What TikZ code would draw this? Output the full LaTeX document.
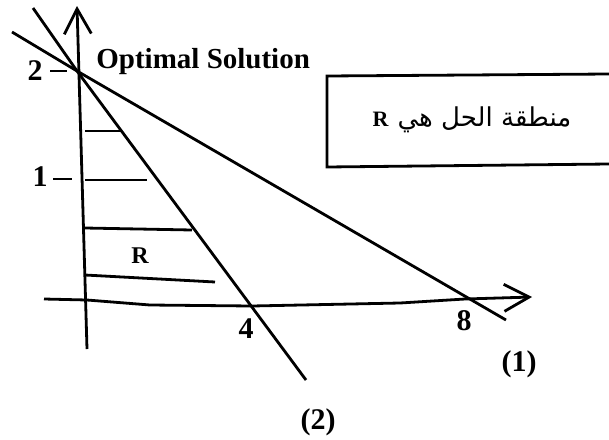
\documentclass[tikz,border=0pt]{standalone}
\usepackage{fontspec}
\setmainfont{Liberation Serif}
\newfontfamily\arabicfont[Script=Arabic]{DejaVu Sans}
\TeXXeTstate=1
\usetikzlibrary{arrows.meta}

\begin{document}
\begin{tikzpicture}[x=1pt,y=-1pt,line width=2.8pt,
  lab/.style={font=\bfseries\fontsize{30}{32}\selectfont,inner sep=0pt},
  axisarrow/.style={-{Straight Barb[length=25pt,width=27pt,line width=2.8pt]}}]
\useasboundingbox (0,0) rectangle (609,439);
\coordinate (ybot) at (87,349);
\coordinate (ytop) at (77,6);
\coordinate (xl) at (44,299);
\coordinate (xr) at (532,297);
\coordinate (opt) at (77,71);
\draw[axisarrow] (ybot) -- (ytop);
\draw[axisarrow] (xl) -- (87,300) -- (150,305) -- (252,306) -- (400,303) -- (465,299) -- (xr);
\draw (12,32) -- (opt) -- (506,320);
\draw (33,8) -- (opt) -- (306,380);
\foreach \ya/\yb/\xe in {131/131/122,180/180/147,228/230/192,275/282/215}
  \draw (85,\ya) -- (\xe,\yb);
\draw (50,71) -- (67,71);
\draw (53,179) -- (72,179);
\node[lab] (two) at (35,71) {2};
\node[lab] (one) at (40,177) {1};
\node[lab] (four) at (246,329) {4};
\node[lab] (eight) at (464,321) {8};
\node[lab] (eq1) at (519,364) {(1)};
\node[lab] (eq2) at (318,422) {(2)};
\node[lab,font=\bfseries\fontsize{24}{26}\selectfont] (reg) at (140,256) {R};
\node[lab,anchor=base west,font=\bfseries\fontsize{29}{32}\selectfont] (optlab) at (95,68) {Optimal Solution};
\draw (609,74) -- (327,76) -- (327,167) -- (609,164);
\node[inner sep=0pt] (note) at (472,120)
  {\beginR{\arabicfont\fontsize{26}{30}\selectfont منطقة الحل هي}\hspace{9pt}{\bfseries\fontsize{22}{24}\selectfont R}\endR};
\end{tikzpicture}
\end{document}
